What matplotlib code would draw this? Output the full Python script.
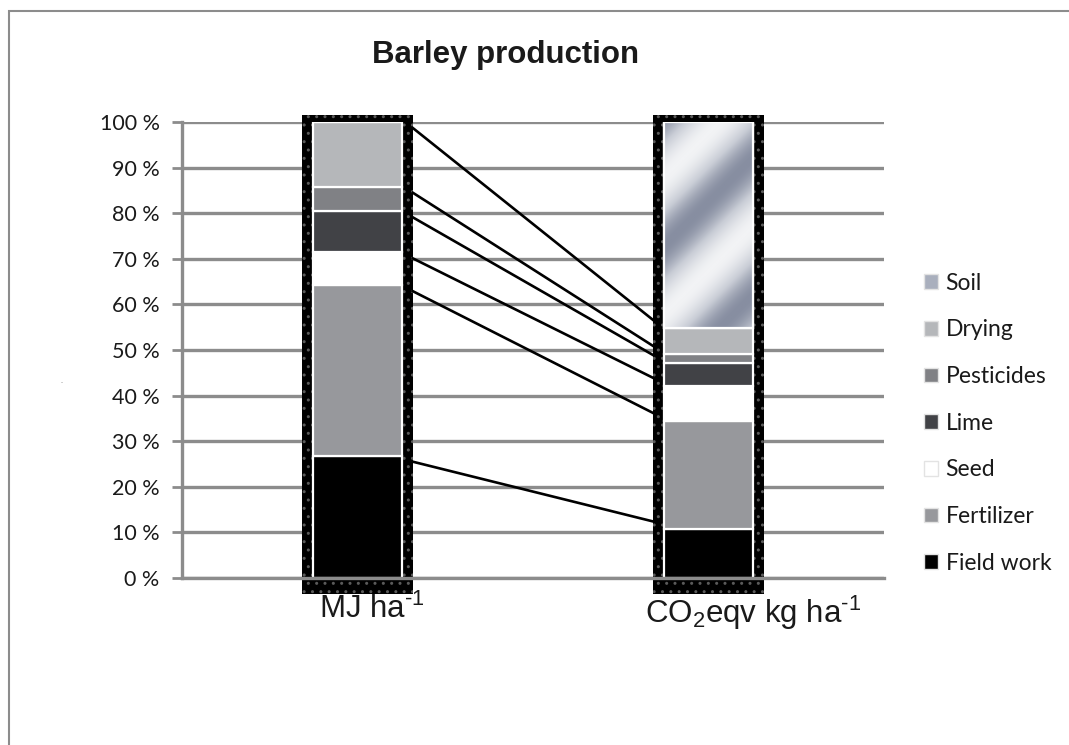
import numpy as np
import matplotlib.pyplot as plt
from matplotlib.patches import Rectangle, Patch
from matplotlib.colors import LinearSegmentedColormap
from matplotlib.transforms import ScaledTranslation

plt.rcParams['font.family'] = ['Lato', 'DejaVu Sans']
plt.rcParams['mathtext.fontset'] = 'custom'
plt.rcParams['mathtext.rm'] = 'Liberation Sans'
plt.rcParams['mathtext.default'] = 'rm'

# data (share of total, %)
categories = ['MJ ha$^{\u20101}$', 'CO$_2$eqv kg ha$^{\u20101}$']
components = ['Field work', 'Fertilizer', 'Seed', 'Lime', 'Pesticides', 'Drying', 'Soil']
energy = [26.8, 37.4, 7.2, 9.0, 5.4, 14.2, 0.0]
emissions = [10.7, 23.8, 7.7, 5.0, 2.0, 5.7, 45.1]
colors = ['#000000', '#97989c', '#ffffff', '#414246', '#808185', '#b5b7ba', '#a9afbd']

grid_col = '#8c8c8c'
frame_w = 0.316
bar_w = 0.253

fig = plt.figure(figsize=(10.69, 7.45), dpi=100)
ax = fig.add_axes([0.170, 0.2242, 0.657, 0.612])
ax.set_xlim(-0.5, 1.5)
ax.set_ylim(0, 100)

x = np.arange(len(categories))
table = np.array([energy, emissions])

# black shadow frame behind each column
ax.bar(x, 105, bottom=-3.5, width=frame_w, color='black', edgecolor='#5a5a5a',
       linewidth=0, hatch='..', zorder=2, clip_on=False)

cum = np.zeros(len(categories))
soil_patch = None
for i, name in enumerate(components):
    vals = table[:, i]
    bars = ax.bar(x, vals, bottom=cum, width=bar_w, color=colors[i],
                  edgecolor='white', linewidth=1.6, zorder=3)
    if name == 'Soil':
        soil_patch = bars[1]
        soil_bottom = cum[1]
        soil_top = cum[1] + vals[1]
    cum = cum + vals

# gradient fill for soil
cmap = LinearSegmentedColormap.from_list('soil', ['#878ea1', '#c9cdd6', '#f2f3f5'])
nc, nr = 90, 210
cc, rr = np.meshgrid(np.arange(nc), np.arange(nr))
tex = 0.5 + 0.5 * np.cos(2 * np.pi * (cc - rr) / 140.0 + 0.6)
im = ax.imshow(tex, cmap=cmap, origin='lower', aspect='auto', zorder=3.5,
               extent=[x[1] - bar_w / 2, x[1] + bar_w / 2, soil_bottom, soil_top])
im.set_clip_path(soil_patch)
ax.add_patch(Rectangle((x[1] - bar_w / 2, soil_bottom), bar_w, soil_top - soil_bottom,
                       fill=False, edgecolor='white', linewidth=1.6, zorder=3.6))

# series lines between the columns
cum_e = np.cumsum(energy)
cum_c = np.cumsum(emissions)
for i in range(len(components) - 1):
    ax.plot([x[0] + frame_w / 2, x[1] - frame_w / 2],
            [cum_e[i] - 1.3, cum_c[i] + 1.7], color='black', linewidth=1.9, zorder=4)

# axes styling
ax.set_yticks(np.arange(0, 101, 10))
ax.set_yticklabels([f'{v} %' for v in range(0, 101, 10)])
ax.yaxis.grid(True, color=grid_col, linewidth=2.4)
ax.set_axisbelow(True)
ax.tick_params(axis='y', length=7, width=2, color=grid_col, pad=9, labelsize=15.5,
               labelcolor='#1a1a1a')
ax.set_xticks(x)
ax.set_xticklabels(categories, fontsize=22.5, family='Liberation Sans', color='#1a1a1a')
ax.tick_params(axis='x', length=0, pad=11)
# labels sit a little right of the column centres in the original
for lab, dx in zip(ax.get_xticklabels(), [15, 45]):
    lab.set_transform(lab.get_transform() + ScaledTranslation(dx / 100, 0, fig.dpi_scale_trans))
for s in ['top', 'right']:
    ax.spines[s].set_visible(False)
ax.spines['left'].set_color(grid_col)
ax.spines['left'].set_linewidth(2.4)
ax.spines['bottom'].set_color(grid_col)
ax.spines['bottom'].set_linewidth(2.4)
ax.spines['bottom'].set_zorder(5)

# legend
handles = [Patch(facecolor=colors[i], edgecolor='#e3e3e3', linewidth=1, label=components[i])
           for i in range(len(components))][::-1]
fig.legend(handles=handles, loc='center left', bbox_to_anchor=(0.845, 0.432),
           frameon=False, fontsize=16.5, handlelength=0.6, handleheight=0.6,
           handletextpad=0.35, labelspacing=1.12, labelcolor='#1a1a1a')

fig.text(0.473, 0.926, 'Barley production', ha='center', va='center',
         fontsize=22.5, fontweight='bold', family='Liberation Sans', color='#1a1a1a')
fig.text(62 / 1069, 1 - 383 / 745, '-', fontsize=4, color='#666666', ha='center', va='center')

fig.add_artist(Rectangle((9 / 1069, -0.1), 1.2, 1 - 11 / 745 + 0.1, transform=fig.transFigure,
                         fill=False, edgecolor=grid_col, linewidth=1.5))

fig.savefig('out.png', dpi=100)
